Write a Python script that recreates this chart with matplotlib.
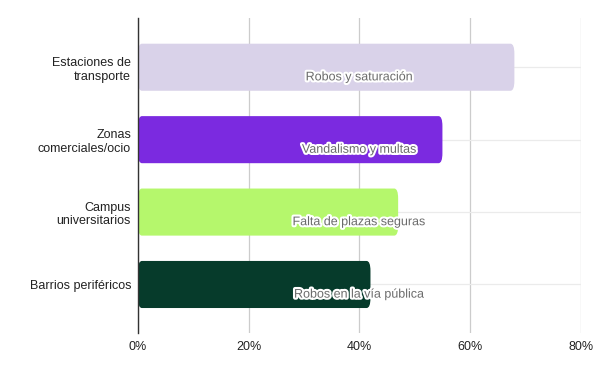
import matplotlib
matplotlib.use("Agg")
import matplotlib.pyplot as plt
import matplotlib.patheffects as pe
from matplotlib.patches import FancyBboxPatch
from matplotlib.ticker import FuncFormatter

categories = ["Estaciones de\ntransporte", "Zonas\ncomerciales/ocio", "Campus\nuniversitarios", "Barrios periféricos"]
values = [68, 55, 47, 42]
annotations = ["Robos y saturación", "Vandalismo y multas", "Falta de plazas seguras", "Robos en la vía pública"]
colors = ["#d9d2e9", "#7b2ae0", "#b5f76c", "#063b2b"]
xticks = [0, 20, 40, 60, 80]

plt.rcParams['font.family'] = ['Liberation Sans', 'DejaVu Sans']

fig = plt.figure(figsize=(6, 3.71), dpi=100)
ax = fig.add_axes([0.23, 0.1024, 0.738, 0.8491])

ypos = list(range(len(categories)))
bars = ax.barh(ypos, values, height=0.65, color=colors)
# replace with slightly rounded bars
for b in bars:
    x0, y0 = b.get_x(), b.get_y()
    w, h = b.get_width(), b.get_height()
    b.set_visible(False)
    p = FancyBboxPatch((x0, y0), w, h, boxstyle="round,pad=0,rounding_size=0.7",
                       mutation_aspect=h / 3.3,
                       facecolor=b.get_facecolor(), edgecolor="none", zorder=3)
    ax.add_patch(p)

ax.set_xlim(0, 80)
ax.set_ylim(3.67, -0.68)
ax.set_xticks(xticks)
ax.xaxis.set_major_formatter(FuncFormatter(lambda v, p: f"{int(v)}%"))
ax.set_yticks(ypos)
ax.set_yticklabels(categories, ha="right", multialignment="right")
ax.tick_params(axis="both", length=0, labelsize=9, colors="#222222")
ax.tick_params(axis="y", pad=5)
ax.tick_params(axis="x", pad=6)

ax.grid(axis="x", color="#cccccc", linewidth=0.9, zorder=0)
ax.grid(axis="y", color="#ebebeb", linewidth=0.9, zorder=0)
ax.set_axisbelow(True)
for s in ["top", "right", "bottom"]:
    ax.spines[s].set_visible(False)
ax.spines["left"].set_color("#333333")
ax.spines["left"].set_linewidth(1)
ax.spines["left"].set_zorder(4)

for i, txt in enumerate(annotations):
    ax.text(0.5, i + 0.14, txt, transform=ax.get_yaxis_transform(), ha="center", va="center",
            fontsize=9, color="#6b6b6b", zorder=5,
            path_effects=[pe.withStroke(linewidth=3, foreground="white")])

fig.savefig("out.png", dpi=100)
